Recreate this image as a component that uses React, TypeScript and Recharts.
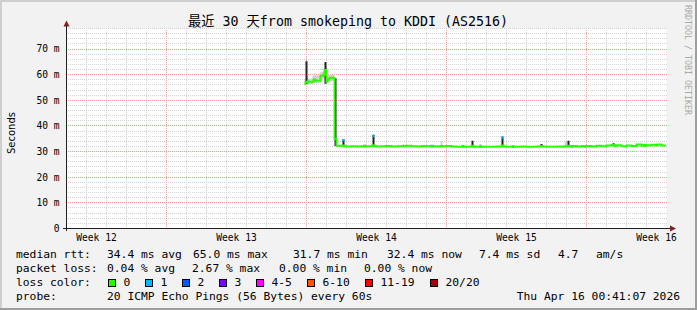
import React from "react";
import { ComposedChart, Area, Line, XAxis, YAxis, CartesianGrid } from "recharts";

// x = days since the start of the 30 day window, y = milliseconds
const dayTimes = [
  11.9, 11.95, 12.05, 12.1, 12.3, 12.35, 12.45, 12.65, 12.7, 12.85, 12.9, 13.0, 13.05, 13.15, 13.35, 13.4,
  13.5, 13.75, 13.8, 13.9, 14.0, 14.25, 14.5, 14.75, 14.85, 14.95, 15.0, 15.3, 15.4, 15.5, 15.75,
  16.0, 16.25, 16.5, 16.8, 16.9, 17.0, 17.25, 17.5, 17.75, 18.0, 18.2, 18.35, 18.5, 18.7, 18.8,
  19.0, 19.25, 19.5, 19.78, 19.88, 20.0, 20.25, 20.35, 20.5, 20.65, 20.75, 21.0, 21.25, 21.5, 21.75, 21.85,
  22.0, 22.28, 22.38, 22.5, 22.75, 23.0, 23.25, 23.5, 23.7, 23.8, 24.0, 24.25, 24.5, 24.75, 24.9, 25.05, 25.15,
  25.25, 25.35, 25.5, 25.75, 25.9, 26.0, 26.25, 26.5, 26.75, 27.0, 27.25, 27.3, 27.4, 27.5, 27.75,
  28.0, 28.25, 28.5, 28.75, 28.85, 28.95, 29.0, 29.25, 29.45, 29.55, 29.75, 29.95,
];

const medianMs = [
  56.4, 57.0, 57.4, 57.2, 57.2, 58.1, 57.6, 57.6, 59.6, 60.0, 61.8, 57.2, 58.1, 58.8, 58.6, 35.0,
  32.3, 32.2, 32.4, 32.1, 32.0, 32.1, 32.0, 32.1, 32.2, 32.0, 32.1, 32.5, 32.1, 32.0, 32.1,
  32.2, 32.0, 32.1, 32.2, 32.1, 32.3, 32.1, 32.0, 32.2, 32.1, 32.2, 32.1, 32.0, 32.2, 32.1,
  32.2, 32.0, 31.9, 32.1, 31.9, 31.9, 32.3, 31.9, 31.9, 32.0, 31.9, 31.9, 31.9, 32.0, 32.4, 32.0,
  31.9, 32.0, 31.9, 31.9, 32.0, 31.9, 31.9, 32.0, 32.2, 32.0, 31.9, 31.9, 32.0, 31.9, 32.1, 32.3, 32.0,
  32.1, 32.2, 32.0, 32.2, 32.1, 32.2, 32.0, 32.3, 32.1, 32.4, 32.6, 32.5, 32.2, 32.5, 32.1,
  32.4, 32.2, 32.8, 32.3, 32.6, 32.2, 32.5, 32.7, 32.4, 32.8, 32.4, 32.5,
];

// [day, low, high] of the grey ping smoke
const greySmoke = [
  [11.9, 55.8, 58.0], [11.95, 56.0, 58.5], [12.05, 56.4, 59.0], [12.1, 56.3, 58.5], [12.3, 56.4, 59.5],
  [12.35, 56.8, 60.5], [12.45, 56.6, 59.8], [12.65, 56.8, 60.6], [12.7, 58.0, 61.0], [12.85, 58.5, 61.5],
  [12.9, 58.0, 62.5], [13.0, 56.4, 59.5], [13.05, 57.0, 59.8], [13.15, 57.5, 60.0], [13.35, 57.5, 60.2],
  [14.85, 32.0, 33.0], [16.8, 32.0, 32.9], [18.7, 32.0, 34.2], [20.65, 31.9, 33.0], [24.9, 32.0, 34.0],
];

// [day, low, high] of the dark smoke spikes
const darkSpikes = [
  [11.95, 56.4, 65.2], [12.9, 56.5, 64.9], [13.4, 32.2, 58.6], [13.8, 32.3, 34.9], [15.3, 32.4, 36.6],
  [20.25, 32.2, 34.2], [21.75, 32.3, 35.9], [23.7, 32.1, 33.0], [25.05, 32.2, 34.2], [27.3, 32.4, 33.2],
  [29.45, 32.3, 33.0],
];

// [day, low, high] where 1 of 20 pings was lost
const oneLost = [
  [13.8, 34.0, 34.9], [15.3, 35.7, 36.6], [21.75, 35.0, 35.9], [18.2, 31.6, 32.7], [19.78, 31.5, 32.6],
  [20.65, 31.4, 32.5], [22.28, 31.4, 32.5], [25.25, 31.5, 32.6], [25.9, 31.5, 32.6], [28.85, 32.0, 33.1],
];

const weekTicks = [1.5, 8.5, 15.5, 22.5, 29.5];
const weekLabels = ["Week 12", "Week 13", "Week 14", "Week 15", "Week 16"];
const weekLines = [5, 12, 19, 26];
const dayLines = Array.from({ length: 29 }, (_, i) => i + 1).filter((d) => !weekLines.includes(d));
const msTicks = [0, 10, 20, 30, 40, 50, 60, 70];
const msMajor = [10, 20, 30, 40, 50, 60, 70];
const msMinor = Array.from({ length: 39 }, (_, i) => (i + 1) * 2).filter((v) => v % 10 !== 0);

const rttStats = [
  ["34.4 ms avg", 107], ["65.0 ms max", 193], ["31.7 ms min", 293], ["32.4 ms now", 387],
  ["7.4 ms sd", 479], ["4.7", 558], ["am/s", 596],
];
const lossStats = [["0.04 % avg", 107], ["2.67 % max", 192], ["0.00 % min", 279], ["0.00 % now", 364]];
const lossBins = [
  ["0", "#26ff00", 108], ["1", "#00b8ff", 145], ["2", "#0059ff", 182], ["3", "#7e00ff", 219],
  ["4-5", "#ff00ff", 256], ["6-10", "#ff5500", 307], ["11-19", "#ff0000", 365], ["20/20", "#a00000", 430],
];

type Rng = [number, number] | null;
type Row = { t: number; median: number; smoke: Rng; dark: Rng; lost: Rng };

const rows: Row[] = dayTimes.map((t, i) => ({ t, median: medianMs[i], smoke: null, dark: null, lost: null }));

// a step area needs the next point too, so each mark fills its row and the following one
function markRuns(key: "smoke" | "dark" | "lost", marks: number[][]) {
  marks.forEach(([day, lo, hi]) => {
    const i = rows.findIndex((r) => r.t === day);
    if (i < 0) return;
    rows[i][key] = [lo, hi];
    const next = rows[i + 1];
    if (next && next[key] === null) next[key] = [lo, hi];
  });
}
markRuns("smoke", greySmoke);
markRuns("dark", darkSpikes);
markRuns("lost", oneLost);

const mono = "'DejaVu Sans Mono', 'Noto Sans CJK SC', monospace";
const legendFont = { fontFamily: mono, fontSize: 11.3, fill: "#000" };
const tickFont = { fontFamily: mono, fontSize: 9.6, fill: "#000" };

export default function App() {
  return (
    <div
      style={{
        position: "absolute",
        left: 0,
        top: 0,
        width: 697,
        height: 310,
        background: "#f2f2f2",
        overflow: "hidden",
      }}
    >
      <ComposedChart
        width={697}
        height={310}
        data={rows}
        margin={{ top: 28.5, right: 30.5, bottom: 0, left: 0 }}
      >
        <CartesianGrid
          fill="#ffffff"
          fillOpacity={1}
          stroke="#d2d2d2"
          strokeDasharray="1 1"
          strokeDashoffset={0.5}
          shapeRendering="crispEdges"
          horizontalValues={msMinor}
          verticalValues={dayLines}
        />
        <CartesianGrid
          stroke="#eb9c9c"
          strokeDasharray="1 1"
          strokeDashoffset={0.5}
          shapeRendering="crispEdges"
          horizontalValues={msMajor}
          verticalValues={weekLines}
        />
        <XAxis
          type="number"
          dataKey="t"
          domain={[0, 30]}
          allowDataOverflow
          ticks={weekTicks}
          interval={0}
          tickFormatter={(v) => weekLabels[weekTicks.indexOf(v)]}
          axisLine={false}
          tickLine={false}
          tickSize={4}
          tickMargin={2}
          height={81.5}
          tick={tickFont}
        />
        <YAxis
          type="number"
          domain={[0, 78]}
          allowDataOverflow
          ticks={msTicks}
          interval={0}
          tickFormatter={(v) => (v === 0 ? "0" : `${v} m`)}
          axisLine={false}
          tickLine={false}
          tickSize={5}
          tickMargin={2}
          width={66.5}
          tick={tickFont}
        />
        <Area
          type="stepAfter"
          dataKey="smoke"
          stroke="none"
          fill="#d2d2d2"
          fillOpacity={1}
          dot={false}
          activeDot={false}
          isAnimationActive={false}
        />
        <Area
          type="stepAfter"
          dataKey="dark"
          stroke="none"
          fill="#222222"
          fillOpacity={1}
          dot={false}
          activeDot={false}
          isAnimationActive={false}
        />
        <Line
          type="stepAfter"
          dataKey="median"
          stroke="#26ff00"
          strokeWidth={2}
          dot={false}
          activeDot={false}
          isAnimationActive={false}
        />
        <Area
          type="stepAfter"
          dataKey="lost"
          stroke="none"
          fill="#00b8ff"
          fillOpacity={1}
          dot={false}
          activeDot={false}
          isAnimationActive={false}
        />
      </ComposedChart>

      <svg
        width={697}
        height={310}
        style={{ position: "absolute", left: 0, top: 0, pointerEvents: "none" }}
      >
        {/* frame */}
        <rect x={0} y={0} width={697} height={2} fill="#cfcfcf" />
        <rect x={0} y={0} width={2} height={310} fill="#cfcfcf" />
        <rect x={0} y={308} width={697} height={2} fill="#9e9e9e" />
        <rect x={695} y={0} width={2} height={310} fill="#9e9e9e" />

        {/* axes with arrows */}
        <line x1={66.5} y1={231} x2={66.5} y2={25} stroke="#1f1f1f" />
        <polygon points="63.5,26.5 69.5,26.5 66.5,20.5" fill="#801f1f" />
        <line x1={63} y1={228.5} x2={671} y2={228.5} stroke="#1f1f1f" />
        <polygon points="670,225.5 670,231.5 676,228.5" fill="#801f1f" />

        <text x={348} y={26} textAnchor="middle" style={{ fontFamily: mono, fontSize: 13.3, fill: "#000" }}>
          最近 30 天from smokeping to KDDI (AS2516)
        </text>
        <text
          x={11}
          y={133}
          textAnchor="middle"
          dominantBaseline="central"
          transform="rotate(-90 11 133)"
          style={{ fontFamily: "'DejaVu Sans', sans-serif", fontSize: 10, fill: "#000" }}
        >
          Seconds
        </text>
        <text
          x={684.5}
          y={5}
          transform="rotate(90 684.5 5)"
          style={{ fontFamily: mono, fontSize: 8.3, fill: "#a8a8a8" }}
        >
          RRDTOOL / TOBI OETIKER
        </text>

        <text x={16} y={258} style={legendFont}>median rtt:</text>
        {rttStats.map(([s, x]) => (
          <text key={s as string} x={x as number} y={258} style={legendFont}>{s}</text>
        ))}
        <text x={16} y={272} style={legendFont}>packet loss:</text>
        {lossStats.map(([s, x]) => (
          <text key={s as string} x={x as number} y={272} style={legendFont}>{s}</text>
        ))}
        <text x={16} y={286} style={legendFont}>loss color:</text>
        {lossBins.map(([label, color, x]) => (
          <g key={label as string}>
            <rect x={(x as number) + 0.5} y={279.5} width={7} height={7} fill={color as string} stroke="#000" />
            <text x={(x as number) + 15.5} y={286} style={legendFont}>{label}</text>
          </g>
        ))}
        <text x={16} y={300} style={legendFont}>probe:</text>
        <text x={107} y={300} style={legendFont}>20 ICMP Echo Pings (56 Bytes) every 60s</text>
        <text x={680} y={300} textAnchor="end" style={legendFont}>Thu Apr 16 00:41:07 2026</text>
      </svg>
    </div>
  );
}
